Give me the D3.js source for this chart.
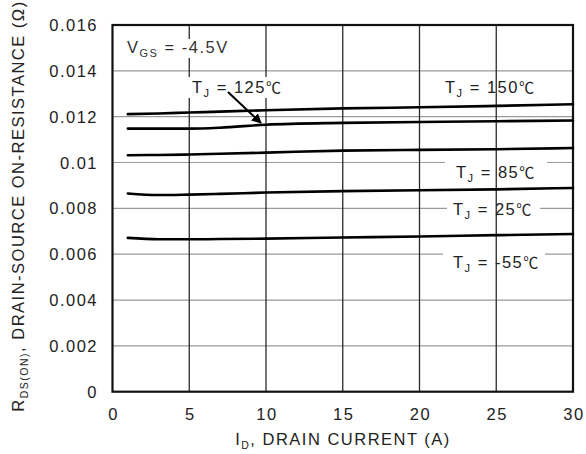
<!DOCTYPE html>
<html>
<head>
<meta charset="utf-8">
<script src="https://cdn.jsdelivr.net/npm/d3@7"></script>
<style>
  html, body { margin: 0; padding: 0; background: #fff; }
  svg { display: block; }
  text { font-family: "Liberation Sans", Arial, "DejaVu Sans", sans-serif; fill: #222; }
</style>
</head>
<body>
<svg id="chart" width="586" height="454"></svg>
<script>
// Drain current samples (A)
const currents = [1, 3, 5, 7, 10, 15, 20, 25, 30];

// On-resistance (ohm) at VGS = -4.5 V for each junction temperature
const r150 = [0.01211, 0.01214, 0.01218, 0.01222, 0.01228, 0.01236, 0.01241, 0.01247, 0.01254];
const r125 = [0.01148, 0.01148, 0.01148, 0.01152, 0.01165, 0.01173, 0.01177, 0.01180, 0.01183];
const r85  = [0.01032, 0.01033, 0.01035, 0.01038, 0.01043, 0.01052, 0.01055, 0.01058, 0.01063];
const r25  = [0.00865, 0.00858, 0.00860, 0.00863, 0.00869, 0.00875, 0.00879, 0.00883, 0.00889];
const rM55 = [0.00671, 0.00665, 0.00665, 0.00666, 0.00668, 0.00673, 0.00677, 0.00683, 0.00688];

const xTicks = [0, 5, 10, 15, 20, 25, 30];
const yTicks = [0, 0.002, 0.004, 0.006, 0.008, 0.01, 0.012, 0.014, 0.016];
const yTickLabels = ["0", "0.002", "0.004", "0.006", "0.008", "0.01", "0.012", "0.014", "0.016"];

const svg = d3.select("#chart");
const x = d3.scaleLinear().domain([0, 30]).range([112.5, 573]);
const y = d3.scaleLinear().domain([0, 0.016]).range([391.7, 25]);

const FS = 16.5, LS = 1.5;

// horizontal grid (light)
svg.append("g").selectAll("line").data(yTicks.slice(1, -1)).join("line")
  .attr("x1", x(0)).attr("x2", x(30))
  .attr("y1", d => y(d)).attr("y2", d => y(d))
  .attr("stroke", "#9a9a9a").attr("stroke-width", 1.2);

// label backgrounds that interrupt the grid
const boxes = [
  [125, 39, 101, 19],   // VGS
  [186, 77, 98, 21],    // 125
  [445, 157, 102, 24],  // 85
  [447, 199, 93, 20],   // 25
  [443, 249, 102, 22]   // -55
];
svg.append("g").selectAll("rect").data(boxes).join("rect")
  .attr("x", d => d[0]).attr("y", d => d[1]).attr("width", d => d[2]).attr("height", d => d[3])
  .attr("fill", "#fff");

// vertical grid (dark)
const vg = svg.append("g");
xTicks.slice(1, -1).forEach(t => {
  // broken where the VGS / 125 labels sit
  const segs = (t === 5) ? [[25, 39], [58, 77], [98, 391.7]]
             : (t === 10) ? [[25, 77], [98, 391.7]]
             : [[25, 391.7]];
  segs.forEach(s => vg.append("line")
    .attr("x1", x(t)).attr("x2", x(t)).attr("y1", s[0]).attr("y2", s[1])
    .attr("stroke", "#2a2a2a").attr("stroke-width", 1.3));
});

// frame
svg.append("rect")
  .attr("x", x(0)).attr("y", y(0.016))
  .attr("width", x(30) - x(0)).attr("height", y(0) - y(0.016))
  .attr("fill", "none").attr("stroke", "#111").attr("stroke-width", 2.2);

// curves
const line = d3.line().x(d => x(d[0])).y(d => y(d[1])).curve(d3.curveMonotoneX);
[r150, r125, r85, r25, rM55].forEach(vals => {
  svg.append("path")
    .datum(currents.map((c, i) => [c, vals[i]]))
    .attr("d", line)
    .attr("fill", "none").attr("stroke", "#000").attr("stroke-width", 2.6)
    .attr("stroke-linecap", "round");
});

// axis tick labels
svg.append("g").selectAll("text").data(yTicks).join("text")
  .attr("x", 98).attr("y", d => y(d) + 6)
  .attr("text-anchor", "end").attr("font-size", FS).attr("letter-spacing", LS)
  .text((d, i) => yTickLabels[i]);

svg.append("g").selectAll("text").data(xTicks).join("text")
  .attr("x", d => x(d) + 1).attr("y", 420)
  .attr("text-anchor", "middle").attr("font-size", FS).attr("letter-spacing", LS)
  .text(d => d);

// axis titles
const xt = svg.append("text").attr("x", 343).attr("y", 445)
  .attr("text-anchor", "middle").attr("font-size", FS).attr("letter-spacing", LS);
xt.append("tspan").text("I");
xt.append("tspan").attr("font-size", 10.5).attr("dy", 4).text("D");
xt.append("tspan").attr("dy", -4).text(", DRAIN CURRENT (A)");

const yt = svg.append("text").attr("transform", "translate(24,206) rotate(-90)")
  .attr("text-anchor", "middle").attr("font-size", FS).attr("letter-spacing", LS);
yt.append("tspan").text("R");
yt.append("tspan").attr("font-size", 10.5).attr("dy", 4).text("DS(ON)");
yt.append("tspan").attr("dy", -4).text(", DRAIN-SOURCE ON-RESISTANCE (Ω)");

// annotations
function label(px, py, main, sub, rest, unit, color) {
  const t = svg.append("text").attr("x", px).attr("y", py)
    .attr("font-size", FS).attr("letter-spacing", LS).style("fill", color || "#222");
  t.append("tspan").text(main);
  t.append("tspan").attr("font-size", 11).attr("dy", 4).text(sub);
  t.append("tspan").attr("dy", -4).text(rest);
  if (unit) {
    t.append("tspan").attr("letter-spacing", 0)
      .style("font-family", "'Noto Sans CJK SC', sans-serif").attr("font-size", 15).text(unit);
  }
}
label(127, 53, "V", "GS", " = -4.5V", null, "#333");
label(192, 93, "T", "J", " = 125", "℃");
label(445, 93, "T", "J", " = 150", "℃");
label(456, 178, "T", "J", " = 85", "℃");
label(453, 215, "T", "J", " = 25", "℃");
label(453, 268, "T", "J", " = -55", "℃");

// arrow to the 125 curve
svg.append("defs").append("marker")
  .attr("id", "arrowhead").attr("viewBox", "0 0 10 10")
  .attr("refX", 9).attr("refY", 5).attr("markerWidth", 5).attr("markerHeight", 5)
  .attr("orient", "auto")
  .append("path").attr("d", "M0,0 L10,5 L0,10 Z").attr("fill", "#000");
svg.append("line")
  .attr("x1", 228).attr("y1", 92).attr("x2", 261).attr("y2", 123)
  .attr("stroke", "#000").attr("stroke-width", 2)
  .attr("marker-end", "url(#arrowhead)");
</script>
</body>
</html>
